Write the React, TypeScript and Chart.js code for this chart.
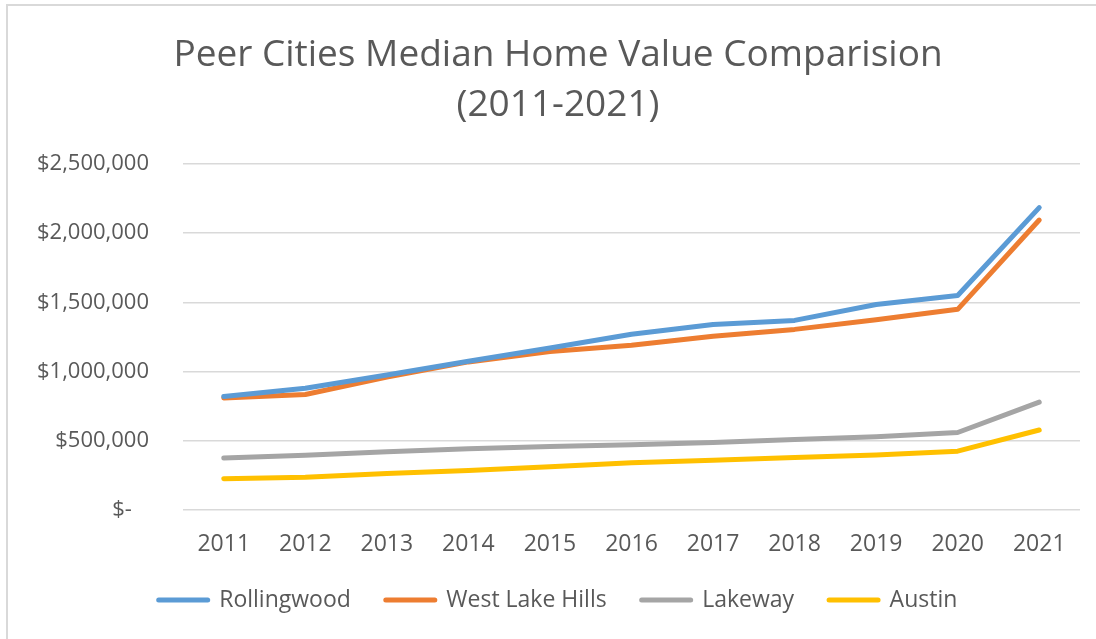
import React, { useEffect, useRef } from "react";
import { Chart, registerables } from "chart.js";

Chart.register(...registerables);

const years = ["2011", "2012", "2013", "2014", "2015", "2016", "2017", "2018", "2019", "2020", "2021"];
const rollingwood = [820000, 880000, 975000, 1075000, 1170000, 1270000, 1340000, 1370000, 1485000, 1550000, 2185000];
const westLakeHills = [810000, 835000, 960000, 1070000, 1145000, 1190000, 1255000, 1305000, 1375000, 1450000, 2095000];
const lakeway = [375000, 395000, 420000, 443000, 458000, 472000, 488000, 510000, 530000, 560000, 780000];
const austin = [226000, 236000, 264000, 285000, 313000, 342000, 360000, 380000, 398000, 425000, 578000];
const yTicks = [0, 500000, 1000000, 1500000, 2000000, 2500000];

const seriesNames = ["Rollingwood", "West Lake Hills", "Lakeway", "Austin"];
const seriesColors = ["#5B9BD5", "#ED7D31", "#A5A5A5", "#FFC000"];
const titleLines = ["Peer Cities Median Home Value Comparision", "(2011-2021)"];

const FONT = "'Open Sans', 'Noto Sans', sans-serif";
const TEXT = "#595959";

export default function App() {
  const ref = useRef<HTMLCanvasElement>(null);

  useEffect(() => {
    if (!ref.current) return;
    const values = [rollingwood, westLakeHills, lakeway, austin];
    const chart = new Chart(ref.current, {
      type: "line",
      data: {
        labels: years,
        datasets: values.map((v, i) => ({
          label: seriesNames[i],
          data: v,
          borderColor: seriesColors[i],
          backgroundColor: seriesColors[i],
          borderWidth: 5,
          borderCapStyle: "round",
          borderJoinStyle: "round",
          pointRadius: 0,
          tension: 0,
          fill: false,
        })),
      },
      options: {
        responsive: false,
        animation: false,
        layout: { padding: { left: 36, right: 16, top: 0, bottom: 17.5 } },
        plugins: {
          title: {
            display: true,
            text: titleLines,
            color: TEXT,
            font: { family: FONT, size: 37, weight: "normal", lineHeight: 50 / 37 },
            padding: { top: 30, bottom: 34 },
          },
          legend: {
            position: "bottom",
            labels: {
              usePointStyle: true,
              pointStyleWidth: 49,
              padding: 35,
              color: TEXT,
              font: { family: FONT, size: 23 },
              generateLabels: (c: any) =>
                c.data.datasets.map((ds: any, i: number) => ({
                  text: ds.label,
                  fillStyle: ds.borderColor,
                  strokeStyle: ds.borderColor,
                  lineWidth: 5,
                  lineCap: "round",
                  pointStyle: "line",
                  hidden: false,
                  datasetIndex: i,
                  fontColor: TEXT,
                })),
            },
          },
          tooltip: { enabled: false },
        },
        scales: {
          x: {
            offset: true,
            afterFit: (s: any) => {
              s.height = 43.5;
            },
            grid: { display: false, drawTicks: false },
            border: { display: false },
            ticks: {
              color: TEXT,
              font: { family: FONT, size: 23, lineHeight: 1.2 },
              padding: 21,
              maxRotation: 0,
              autoSkip: false,
            },
          },
          y: {
            min: 0,
            max: 2500000,
            afterFit: (s: any) => {
              s.width = 147;
            },
            afterBuildTicks: (s: any) => {
              s.ticks = yTicks.map((v) => ({ value: v }));
            },
            grid: { color: "#D9D9D9", lineWidth: 1.5, drawTicks: false },
            border: { display: false },
            ticks: {
              color: TEXT,
              font: { family: FONT, size: 22 },
              padding: 34,
              callback: (v: any) =>
                Number(v) === 0 ? "$-   " : "$" + Number(v).toLocaleString("en-US"),
            },
          },
        },
      },
    });
    return () => chart.destroy();
  }, []);

  return (
    <div
      style={{
        position: "fixed",
        left: 0,
        top: 0,
        width: 1096,
        height: 639,
        overflow: "hidden",
        background: "#fff",
      }}
    >
      <div
        style={{
          position: "absolute",
          left: 6,
          top: 4,
          width: 1200,
          height: 700,
          border: "2px solid #D9D9D9",
          boxSizing: "border-box",
        }}
      />
      <canvas
        ref={ref}
        width={1096}
        height={639}
        style={{ position: "absolute", left: 0, top: 0, width: 1096, height: 639 }}
      />
    </div>
  );
}
